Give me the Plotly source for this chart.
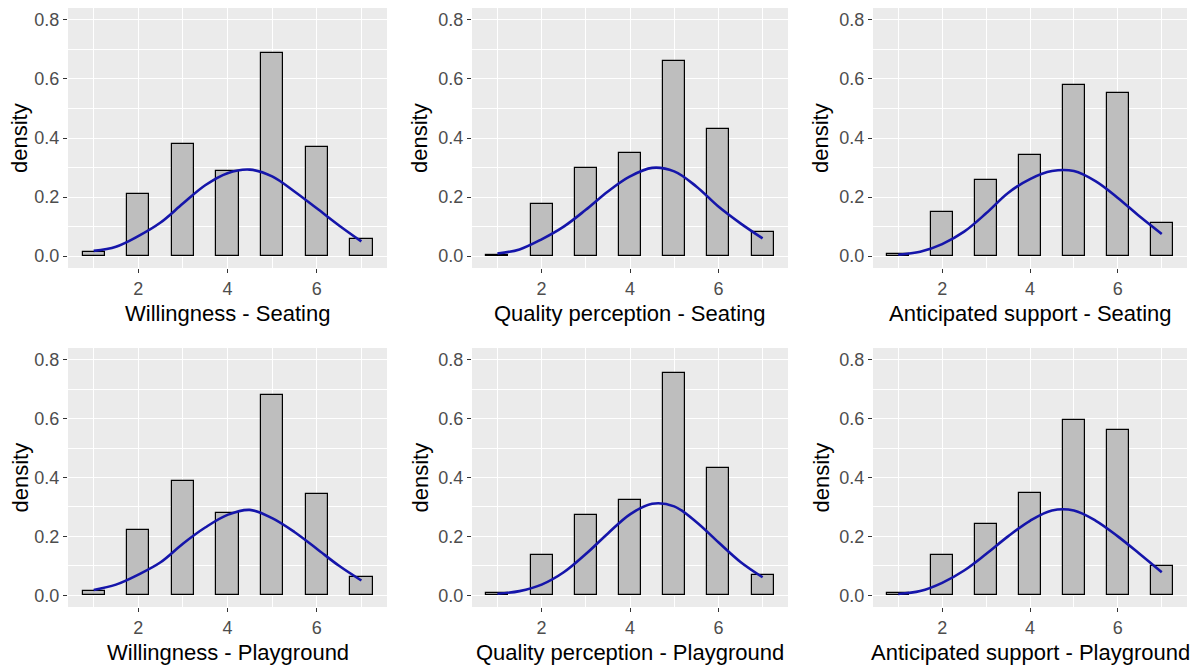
import plotly.graph_objects as go

# ---------------- data ----------------
bins = [1, 2, 3, 4, 5, 6, 7]
curve_x = [1, 1.5, 2, 2.5, 3, 3.5, 4, 4.5, 5, 5.5, 6, 6.5, 7]
y_ticks = [0.0, 0.2, 0.4, 0.6, 0.8]
y_tick_labels = ["0.0", "0.2", "0.4", "0.6", "0.8"]
x_ticks = [2, 4, 6]
x_tick_labels = ["2", "4", "6"]

titles = [
    "Willingness - Seating",
    "Quality perception - Seating",
    "Anticipated support - Seating",
    "Willingness - Playground",
    "Quality perception - Playground",
    "Anticipated support - Playground",
]

will_seat_density = [0.015, 0.210, 0.379, 0.287, 0.688, 0.370, 0.057]
qual_seat_density = [0.005, 0.175, 0.297, 0.348, 0.662, 0.431, 0.082]
supp_seat_density = [0.009, 0.150, 0.257, 0.344, 0.580, 0.554, 0.112]
will_play_density = [0.015, 0.220, 0.389, 0.281, 0.681, 0.344, 0.061]
qual_play_density = [0.009, 0.138, 0.271, 0.322, 0.755, 0.431, 0.070]
supp_play_density = [0.009, 0.138, 0.241, 0.348, 0.595, 0.560, 0.101]

will_seat_curve = [0.018, 0.032, 0.068, 0.114, 0.178, 0.240, 0.281, 0.293, 0.270, 0.219, 0.162, 0.104, 0.050]
qual_seat_curve = [0.009, 0.023, 0.057, 0.100, 0.157, 0.219, 0.270, 0.299, 0.287, 0.236, 0.168, 0.111, 0.060]
supp_seat_curve = [0.005, 0.015, 0.041, 0.083, 0.145, 0.214, 0.261, 0.288, 0.288, 0.253, 0.197, 0.134, 0.075]
will_play_curve = [0.018, 0.036, 0.070, 0.112, 0.175, 0.230, 0.273, 0.290, 0.262, 0.215, 0.158, 0.100, 0.050]
qual_play_curve = [0.005, 0.014, 0.036, 0.078, 0.140, 0.210, 0.275, 0.311, 0.302, 0.249, 0.180, 0.113, 0.061]
supp_play_curve = [0.004, 0.014, 0.042, 0.084, 0.140, 0.200, 0.253, 0.288, 0.288, 0.253, 0.200, 0.140, 0.078]

densities = [will_seat_density, qual_seat_density, supp_seat_density,
             will_play_density, qual_play_density, supp_play_density]
curves = [will_seat_curve, qual_seat_curve, supp_seat_curve,
          will_play_curve, qual_play_curve, supp_play_curve]

# ---------------- layout geometry ----------------
W, H = 1196, 667
col_px = [(68, 387), (472, 788), (873, 1187)]
row_px = [(8, 268), (348, 607)]
ytitle_x = [20, 420, 821]
xtitle_y = [313, 652]

FONT = "Liberation Sans, Arial, sans-serif"
TICK_COLOR = "#4d4d4d"

fig = go.Figure()
annotations = []

for i in range(6):
    r, c = divmod(i, 3)
    suffix = "" if i == 0 else str(i + 1)
    xa, ya = "x" + suffix, "y" + suffix

    fig.add_trace(go.Bar(
        x=bins, y=densities[i], width=0.5,
        marker=dict(color="#bebebe", line=dict(color="black", width=1.2)),
        xaxis=xa, yaxis=ya, showlegend=False, hoverinfo="x+y",
    ))
    fig.add_trace(go.Scatter(
        x=curve_x, y=curves[i], mode="lines",
        line=dict(color="#1515aa", width=2.6, shape="spline", smoothing=1.0),
        xaxis=xa, yaxis=ya, showlegend=False,
    ))

    x0, x1 = col_px[c]
    y0, y1 = row_px[r]
    fig.layout["xaxis" + suffix] = dict(
        domain=[x0 / W, x1 / W], anchor=ya,
        range=[0.425, 7.575],
        tickvals=x_ticks, ticktext=x_tick_labels,
        ticks="outside", ticklen=4, tickwidth=1, tickcolor="#333333",
        tickfont=dict(family=FONT, size=18, color=TICK_COLOR),
        showgrid=True, gridcolor="white", gridwidth=1.2,
        minor=dict(tickvals=[1, 3, 5, 7], showgrid=True, gridcolor="white", gridwidth=0.6, ticks=""),
        zeroline=False, showline=False, fixedrange=True,
    )
    fig.layout["yaxis" + suffix] = dict(
        domain=[1 - y1 / H, 1 - y0 / H], anchor=xa,
        range=[-0.04, 0.84],
        tickvals=y_ticks, ticktext=y_tick_labels,
        ticks="outside", ticklen=4, tickwidth=1, tickcolor="#333333",
        tickfont=dict(family=FONT, size=18, color=TICK_COLOR),
        showgrid=True, gridcolor="white", gridwidth=1.2,
        minor=dict(tickvals=[0.1, 0.3, 0.5, 0.7], showgrid=True, gridcolor="white", gridwidth=0.6, ticks=""),
        zeroline=False, showline=False, fixedrange=True,
    )

    annotations.append(dict(
        text=titles[i], xref="paper", yref="paper",
        x=(x0 + x1) / 2 / W, y=1 - xtitle_y[r] / H,
        xanchor="center", yanchor="middle", showarrow=False,
        font=dict(family=FONT, size=22, color="black"),
    ))
    annotations.append(dict(
        text="density", xref="paper", yref="paper",
        x=ytitle_x[c] / W, y=1 - (y0 + y1) / 2 / H,
        xanchor="center", yanchor="middle", showarrow=False, textangle=-90,
        font=dict(family=FONT, size=22, color="black"),
    ))

fig.update_layout(
    width=W, height=H,
    margin=dict(l=0, r=0, t=0, b=0),
    paper_bgcolor="white", plot_bgcolor="#ebebeb",
    bargap=0, annotations=annotations,
    font=dict(family=FONT),
)

fig.write_html(
    "out.html",
    config={"displayModeBar": False},
    post_script="document.body.style.margin='0px';document.body.style.overflow='hidden';",
)
